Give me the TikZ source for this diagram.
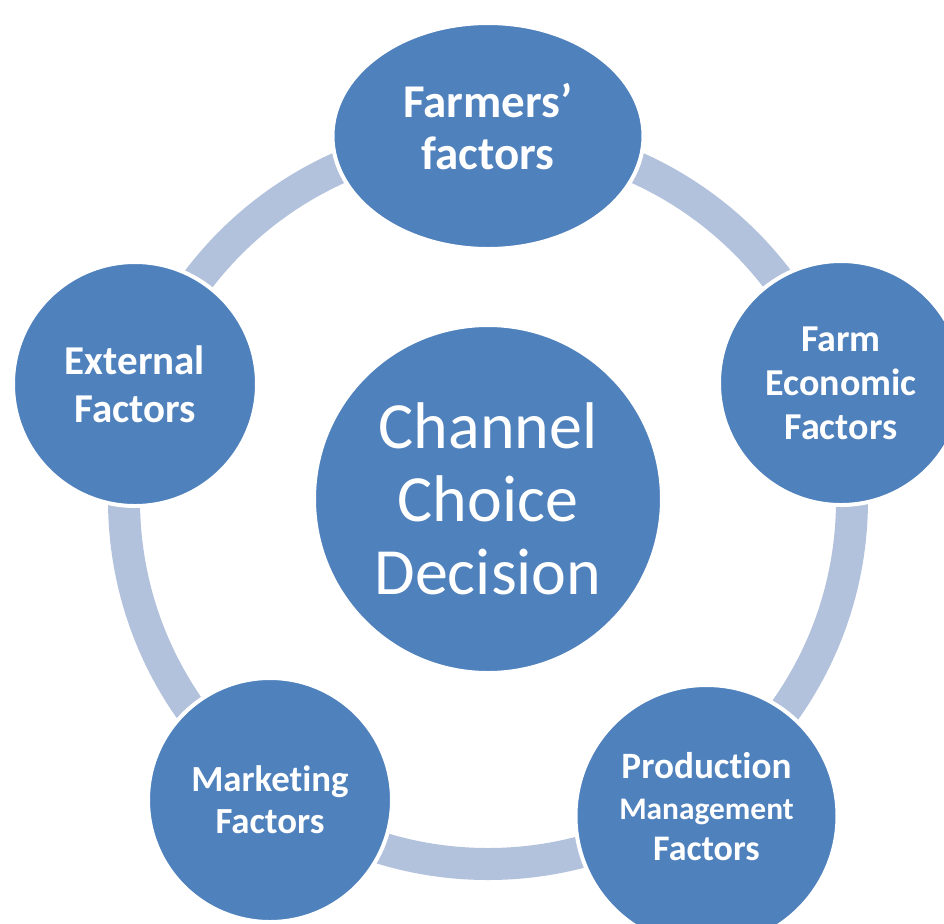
\documentclass[tikz,border=0pt]{standalone}
\usepackage{fontspec}
\setmainfont{Carlito}[Ligatures=NoCommon]
\usetikzlibrary{shapes.geometric}
\definecolor{factorblue}{HTML}{4F81BD}
\definecolor{ringblue}{HTML}{B2C1DC}
\begin{document}
\begin{tikzpicture}[x=0.5pt, y=-0.5pt,
    factor/.style={circle, fill=factorblue, draw=white, line width=2pt, inner sep=0pt,
        text=white, align=center, minimum size=122pt}]
            \useasboundingbox (0,0) rectangle (944,923);
            \clip (0,0) rectangle (944,923);
            \draw[ringblue, line width=16pt] (488,500) circle[radius=182pt];

            \node[factor, minimum size=174pt, font=\fontsize{33}{36.5}\selectfont] (choice) at (488,499) {Channel\\Choice\\Decision};
            \node[factor, ellipse, minimum width=155.5pt, minimum height=113pt, text depth=10pt, font=\bfseries\fontsize{23.5}{26}\selectfont] (farmers) at (488,136) {Farmers’\\factors};
            \node[factor, font=\bfseries\fontsize{19}{22}\selectfont] (economic) at (841,383) {Farm\\Economic\\Factors};
            \node[factor, minimum size=131pt, text depth=10pt, font=\bfseries\fontsize{18}{20.5}\selectfont] (production) at (706.5,816) {{\fontsize{18.6}{20.5}\selectfont Production}\\
                {\fontsize{15.7}{20.5}\selectfont Management}\\
                Factors};
            \node[factor, font=\bfseries\fontsize{18.4}{21}\selectfont] (marketing) at (270,800) {Marketing\\Factors};
            \node[factor, font=\bfseries\fontsize{20.5}{24}\selectfont] (external) at (135,384) {External\\Factors};
        \end{tikzpicture}
\end{document}
